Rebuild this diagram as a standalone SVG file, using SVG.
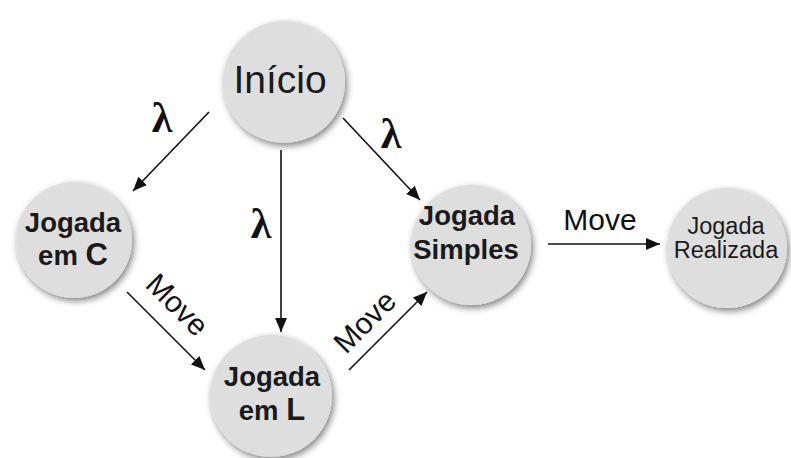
<svg xmlns="http://www.w3.org/2000/svg" width="791" height="458" viewBox="0 0 791 458">
<defs>
<filter id="sh" x="-30%" y="-30%" width="160%" height="160%">
<feGaussianBlur in="SourceAlpha" stdDeviation="3.5" result="b"/>
<feOffset in="b" dx="2" dy="3" result="o"/>
<feComponentTransfer in="o" result="c"><feFuncA type="linear" slope="0.5"/></feComponentTransfer>
<feMerge><feMergeNode in="c"/><feMergeNode in="SourceGraphic"/></feMerge>
</filter>
<marker id="ah" viewBox="0 0 14 12" refX="14" refY="6" markerWidth="14" markerHeight="12" markerUnits="userSpaceOnUse" orient="auto">
<path d="M0,0 L14,6 L0,12 Z" fill="#111"/>
</marker>
<style>
.n{fill:#dedede;filter:url(#sh)}
.t{font-family:"Liberation Sans",Arial,sans-serif;fill:#1a1a1a;text-anchor:middle}
.b{font-weight:bold;font-size:27.5px}
.e{stroke:#111;stroke-width:1.6;fill:none;marker-end:url(#ah)}
.l{font-family:"Liberation Serif","DejaVu Serif",serif;font-weight:bold;font-size:42px;fill:#111;text-anchor:middle}
.m{font-family:"Liberation Sans",Arial,sans-serif;font-size:30px;fill:#111;text-anchor:middle}
</style>
</defs>
<rect width="791" height="458" fill="#fff"/>
<g id="connectors">
<line class="e" x1="209" y1="112" x2="133" y2="191"/>
<line class="e" x1="343" y1="118" x2="420" y2="200"/>
<line class="e" x1="281" y1="150" x2="281" y2="332"/>
<line class="e" x1="127" y1="292" x2="205" y2="370"/>
<line class="e" x1="349" y1="370" x2="427" y2="292"/>
<line class="e" x1="548" y1="244" x2="660" y2="244"/>
<text class="l" x="162" y="132">λ</text>
<text class="l" x="261" y="238">λ</text>
<text class="l" x="391" y="148">λ</text>
<text class="m" x="600" y="230">Move</text>
<text class="m" transform="translate(170,312) rotate(45)" x="0" y="0">Move</text>
<text class="m" transform="translate(372,329) rotate(-45)" x="0" y="0">Move</text>
</g>
<g id="inicio">
<circle class="n" cx="284" cy="82" r="61"/>
<text class="t" x="280" y="93" font-size="39">Início</text>
</g>
<g id="jogada-c">
<circle class="n" cx="74" cy="240" r="58"/>
<text class="t b" x="73" y="232">Jogada</text>
<text class="t b" x="73" y="265">em <tspan font-size="31">C</tspan></text>
</g>
<g id="jogada-l">
<circle class="n" cx="271" cy="396" r="61"/>
<text class="t b" x="272" y="386">Jogada</text>
<text class="t b" x="272" y="420">em <tspan font-size="31">L</tspan></text>
</g>
<g id="jogada-simples">
<circle class="n" cx="471" cy="245" r="60"/>
<text class="t b" x="467" y="225">Jogada</text>
<text class="t b" x="466" y="259">Simples</text>
</g>
<g id="jogada-realizada">
<circle class="n" cx="727" cy="248" r="60"/>
<text class="t" x="726" y="234" font-size="23.5">Jogada</text>
<text class="t" x="726" y="258" font-size="23.5">Realizada</text>
</g>
</svg>
